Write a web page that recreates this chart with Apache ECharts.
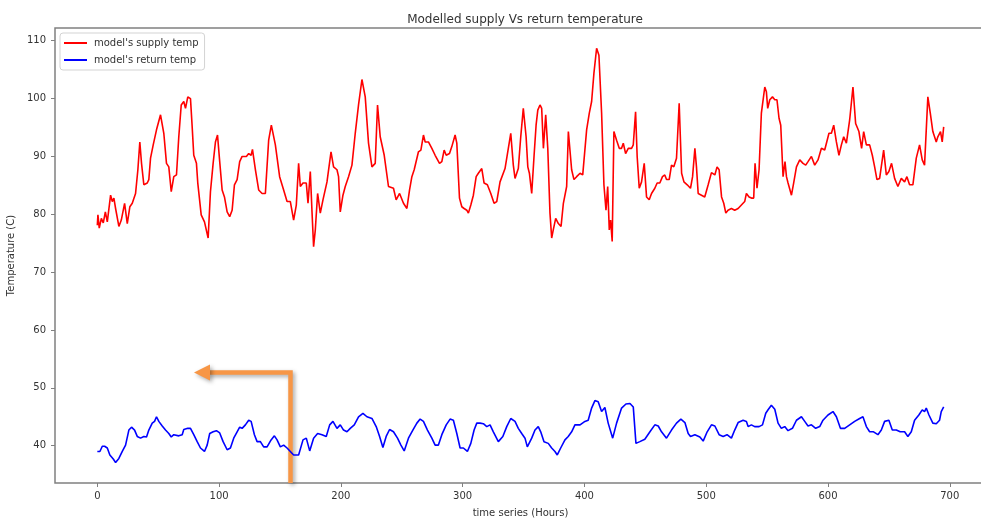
<!DOCTYPE html>
<html>
<head>
<meta charset="utf-8">
<script src="https://cdn.jsdelivr.net/npm/echarts@6/dist/echarts.min.js"></script>
<style>
html,body{margin:0;padding:0;background:#fff;}
#chart{width:981px;height:520px;}
</style>
</head>
<body>
<div id="chart"></div>
<script>
const titleText = "Modelled supply Vs return temperature";
const seriesNames = ["model's supply temp", "model's return temp"];
const xTicks = [0, 100, 200, 300, 400, 500, 600, 700];
const yTicks = [40, 50, 60, 70, 80, 90, 100, 110];

const supplyHours = [0,0.5,1.6,3.3,4.9,6.6,8.2,10.9,12.3,13.6,15.0,17.7,19.7,22.4,24.6,26.7,28.7,31.4,33.3,34.9,36.3,38.2,41.0,42.3,43.7,45.9,48.6,51.9,54.6,56.8,58.7,60.7,62.8,65.0,66.9,68.9,71.0,72.4,74.3,76.5,77.9,79.2,81.4,82.5,85.3,88.0,89.6,91.0,92.9,95.1,97.0,98.7,100.5,102.5,104.4,106.6,108.7,110.7,112.6,114.8,116.9,118.9,122.4,124.3,126.3,127.4,129.8,132.5,135.3,138.0,140.7,142.9,146.2,149.7,153.0,155.8,158.5,161.2,163.4,165.3,166.7,168.9,171.6,173.0,174.9,176.3,177.6,179.0,180.9,183.1,185.3,188.6,191.9,194.0,196.8,198.1,199.5,201.7,203.6,206.3,209.1,211.8,214.5,217.3,220.0,222.7,225.5,228.2,230.1,232.3,235.6,239.1,243.2,245.4,248.2,251.4,254.2,256.4,258.3,260.2,263.7,265.7,267.8,269.2,271.9,274.7,277.4,281.0,282.9,284.8,286.5,289.2,291.1,293.8,295.2,297.4,299.3,301.2,303.4,304.7,306.7,308.8,311.1,312.9,315.7,317.6,320.3,323.1,325.8,328.0,330.7,332.1,334.8,337.5,339.5,341.6,343.0,345.7,347.7,349.8,352.1,353.5,354.8,356.7,358.6,360.3,361.7,363.5,364.9,366.3,368.2,369.9,371.7,373.1,374.4,376.4,378.6,380.8,382.7,385.4,386.8,389.5,391.4,393.6,396.4,398.6,399.6,401.8,404.0,405.9,407.8,410.0,411.9,414.1,416.0,417.7,419.1,420.4,421.5,422.8,424.2,426.4,428.6,430.5,431.9,433.8,436.0,438.7,440.1,442.0,443.3,445.0,446.9,449.1,451.0,453.2,455.1,457.8,459.7,461.9,464.1,466.0,467.4,469.6,471.5,473.4,475.6,477.8,479.8,481.7,484.4,487.1,488.8,490.7,492.0,493.4,496.1,498.8,501.6,504.3,507.1,508.9,510.6,512.6,514.4,516.1,517.9,520.7,523.4,526.2,528.9,531.6,533.0,535.2,537.1,539.0,540.1,541.7,543.4,545.3,546.7,548.1,549.4,550.5,552.2,554.4,556.3,558.1,559.8,561.2,563.1,564.7,565.9,567.2,570.0,571.8,574.1,576.8,579.5,581.7,583.6,586.4,589.1,591.8,594.6,597.3,600.8,602.8,604.7,606.9,609.0,611.0,612.9,615.1,617.8,620.5,622.7,625.4,627.6,629.3,631.5,634.2,636.4,638.3,640.2,642.4,645.7,647.9,650.0,652.2,654.7,657.4,660.2,662.9,664.8,667.0,669.7,672.5,675.2,677.4,679.3,682.0,684.0,686.1,688.9,690.2,692.4,693.8,695.0];
const supplyTemps = [78.1,79.9,77.6,79.3,78.5,80.4,78.7,83.3,82.2,82.8,81.0,77.9,79.0,81.9,78.4,81.3,81.9,83.6,87.7,92.5,88.8,85.1,85.4,86.0,89.7,92.0,94.6,97.2,94.0,88.8,88.2,83.9,86.5,86.8,93.4,98.9,99.5,98.3,100.3,100.0,95.1,90.2,88.8,85.4,79.9,78.7,79.0,75.9,83.9,88.8,92.5,93.7,89.1,84.2,83.0,80.4,79.6,80.7,85.1,86.0,89.1,90.0,90.0,90.5,90.2,91.2,87.7,84.2,83.6,83.6,92.8,95.4,92.0,86.5,84.2,82.2,82.2,79.0,81.6,88.8,84.8,85.4,85.4,81.9,87.4,80.4,74.4,77.3,83.6,80.2,82.5,85.6,90.8,88.2,87.7,86.5,80.4,83.3,84.8,86.5,88.5,94.0,98.9,103.3,100.3,92.3,88.2,88.8,98.9,93.4,90.2,84.8,84.5,82.5,83.6,81.9,81.0,84.2,86.5,87.7,90.8,91.1,93.7,92.5,92.5,91.4,90.2,88.8,89.1,91.1,90.2,90.5,91.7,93.7,92.3,82.8,81.3,81.0,80.7,80.2,81.6,83.3,86.5,87.1,87.9,85.4,85.1,83.6,81.9,82.2,85.6,85.4,87.9,91.4,94.0,88.5,86.2,87.9,93.4,98.3,93.4,88.2,87.1,83.6,90.0,95.4,98.0,98.9,98.3,91.4,97.2,91.4,80.2,75.9,77.3,79.3,78.4,77.9,81.9,84.8,94.3,87.7,86.0,86.5,87.1,86.8,87.1,94.6,97.5,99.5,104.4,108.7,107.5,97.5,85.1,80.7,84.8,77.3,79.0,75.3,94.3,92.8,91.4,91.4,92.3,90.5,91.4,91.4,92.0,97.7,90.0,84.5,85.6,88.8,83.0,82.5,83.6,84.5,85.4,85.4,86.5,86.8,86.0,86.0,88.5,88.2,89.7,99.2,87.1,85.6,85.1,84.5,86.5,91.4,88.2,83.6,83.3,83.0,85.1,87.2,86.8,88.2,87.7,83.0,81.9,80.2,80.7,81.0,80.7,81.0,81.6,82.2,83.6,83.0,82.8,82.8,88.8,84.5,87.7,97.5,97.7,102.0,101.2,98.3,99.8,100.3,99.8,99.8,96.6,95.4,86.5,89.1,86.5,85.4,83.3,85.4,88.2,89.4,88.8,88.5,89.1,90.0,88.5,89.4,91.4,91.1,94.0,94.0,95.4,92.5,90.2,92.0,93.4,92.3,96.3,102.0,95.7,94.3,91.4,94.3,92.0,92.0,90.2,88.2,86.0,86.2,91.1,86.8,87.4,88.8,86.2,84.8,86.2,85.6,86.5,85.1,85.1,89.7,92.0,89.4,88.5,100.3,97.5,94.3,92.5,93.4,94.3,92.5,95.1];

const returnHours = [0,2.1,4.1,6.0,8.2,10.3,13.1,15.0,17.7,20.5,23.2,25.9,28.1,30.6,32.8,35.5,38.2,40.4,42.3,45.1,47.0,48.6,50.5,53.3,56.0,58.7,60.7,62.8,66.9,69.7,71.0,74.3,76.5,79.2,82.0,84.7,88.0,90.2,92.3,95.1,97.8,100.5,103.3,106.6,109.3,112.0,114.8,116.9,118.9,121.6,124.3,126.3,129.0,131.2,133.9,136.6,139.4,142.7,145.4,147.6,150.3,153.0,155.8,161.2,165.3,168.9,171.6,174.4,177.6,180.9,184.5,188.0,190.8,193.5,196.8,199.5,202.2,205.0,207.7,211.0,214.5,218.1,221.4,225.5,229.0,231.8,234.5,237.2,240.0,243.2,246.5,249.3,252.0,255.5,259.1,262.4,265.1,267.8,271.1,274.7,277.4,280.1,282.9,286.5,289.7,292.4,295.2,297.9,300.6,303.9,306.7,309.4,311.6,314.3,317.0,319.8,322.5,325.2,329.3,333.0,336.2,339.5,343.0,345.7,348.5,351.2,353.1,356.7,359.4,362.1,364.1,366.8,370.3,373.1,375.8,377.7,380.5,384.0,386.7,389.5,392.2,396.4,400.4,403.1,405.9,408.6,411.3,414.1,416.8,419.5,423.2,426.4,430.5,434.1,437.4,440.1,442.3,445.5,449.6,453.8,457.8,460.6,463.3,467.4,471.5,475.6,479.2,482.5,485.2,487.1,490.7,494.8,497.5,500.8,504.3,507.1,510.6,513.9,517.1,520.7,523.4,526.2,530.3,533.0,534.4,537.1,539.8,543.4,546.2,548.9,550.8,553.5,556.3,559.0,561.7,564.5,567.2,570.8,574.1,578.2,580.9,583.6,586.4,589.9,593.2,595.9,600.0,604.1,606.9,610.2,613.7,617.8,621.9,626.0,628.7,631.5,634.2,637.4,641.0,643.8,646.5,650.0,652.8,656.1,659.3,662.9,665.6,668.4,671.1,674.6,677.4,679.3,680.7,682.9,686.1,688.9,691.6,693.0,695.0];
const returnTemps = [39.0,39.0,39.9,39.9,39.6,38.4,37.7,37.1,37.8,39.0,40.1,42.7,43.2,42.7,41.6,41.3,41.6,41.5,42.7,43.9,44.2,45.0,44.2,43.4,42.7,42.1,41.5,41.9,41.7,41.9,42.8,43.0,43.0,41.9,40.7,39.6,39.0,40.1,42.1,42.4,42.6,42.2,40.7,39.3,39.6,41.3,42.4,43.2,43.0,43.6,44.4,44.2,41.9,40.7,40.7,39.8,39.8,41.0,41.7,41.0,39.8,40.1,39.6,38.4,38.4,41.0,41.3,39.1,41.3,42.1,41.9,41.6,43.6,44.2,43.0,43.6,42.7,42.4,43.0,43.6,45.0,45.6,45.0,44.7,43.3,41.6,39.7,41.6,42.8,42.4,41.3,40.1,39.1,41.3,42.7,43.9,44.6,44.2,42.7,41.3,40.1,40.1,41.9,43.6,44.6,44.4,42.1,39.6,39.6,39.0,40.4,42.7,43.9,43.9,43.8,43.3,43.6,42.4,40.7,41.6,43.3,44.7,44.2,43.0,42.1,41.3,39.8,41.3,42.7,43.3,42.4,40.7,40.4,39.6,39.0,38.4,39.6,41.0,41.6,42.4,43.6,43.6,44.2,44.4,46.5,47.8,47.6,45.9,46.6,43.9,41.3,43.9,46.5,47.2,47.3,46.7,40.4,40.7,41.1,42.4,43.6,43.4,42.4,41.3,42.7,43.9,44.6,44.0,42.1,41.6,41.9,41.5,40.8,42.4,43.6,43.4,41.9,41.6,41.9,41.3,42.7,44.0,44.4,44.2,43.3,43.6,43.3,43.3,43.6,45.6,46.2,47.0,46.3,43.9,43.0,43.3,42.6,43.0,44.4,45.0,44.2,43.4,43.6,43.0,43.3,44.4,45.3,45.9,45.0,43.0,43.0,43.6,44.2,44.7,45.0,43.3,42.4,42.4,41.9,42.7,44.2,44.4,42.7,42.7,42.4,42.4,41.6,42.4,44.4,45.3,46.2,45.9,46.5,45.3,43.9,43.8,44.4,45.9,46.7];

const supplyData = supplyHours.map((h, i) => [h, supplyTemps[i]]);
const returnData = returnHours.map((h, i) => [h, returnTemps[i]]);

const chart = echarts.init(document.getElementById('chart'), null, {renderer: 'canvas'});
const FONT = 'DejaVu Sans';
const TXT = '#333333';
const AX = '#808080';

const option = {
  backgroundColor: '#ffffff',
  animation: false,
  title: {
    text: titleText,
    left: 520, top: 9, textAlign: 'center',
    textStyle: {fontFamily: FONT, fontSize: 12, fontWeight: 'normal', color: TXT}
  },
  legend: {
    orient: 'vertical',
    left: 60, top: 33,
    padding: [4, 6, 4, 4],
    itemGap: 5,
    itemWidth: 23, itemHeight: 2,
    icon: 'rect',
    backgroundColor: '#ffffff',
    borderColor: '#d3d3d3', borderWidth: 1, borderRadius: 3,
    textStyle: {fontFamily: FONT, fontSize: 10, color: TXT, lineHeight: 12, padding: [0, 0, 0, 2]},
    data: seriesNames
  },
  grid: {
    left: 55, top: 28, width: 931, height: 455,
    outerBoundsMode: 'none', containLabel: false,
    show: true, borderColor: AX, borderWidth: 1.5, backgroundColor: 'transparent'
  },
  xAxis: {
    type: 'value',
    min: -34.75, max: 729.75,
    name: 'time series (Hours)',
    nameLocation: 'middle', nameGap: 25,
    nameTextStyle: {fontFamily: FONT, fontSize: 10, color: TXT},
    axisLine: {show: false, onZero: false},
    axisTick: {show: true, length: 4, inside: false, customValues: xTicks, lineStyle: {color: AX, width: 1}},
    axisLabel: {customValues: xTicks, fontFamily: FONT, fontSize: 10, color: TXT, margin: 8},
    splitLine: {show: false}
  },
  yAxis: {
    type: 'value',
    min: 33.55, max: 112.2,
    name: 'Temperature (C)',
    nameLocation: 'middle', nameGap: 36, nameRotate: 90,
    nameTextStyle: {fontFamily: FONT, fontSize: 10, color: TXT},
    axisLine: {show: false, onZero: false},
    axisTick: {show: true, length: 4, inside: false, customValues: yTicks, lineStyle: {color: AX, width: 1}},
    axisLabel: {customValues: yTicks, fontFamily: FONT, fontSize: 10, color: TXT, margin: 9},
    splitLine: {show: false}
  },
  series: [
    {
      name: seriesNames[0], type: 'line', data: supplyData,
      showSymbol: false, symbol: 'none',
      lineStyle: {color: '#ff0000', width: 1.6}, itemStyle: {color: '#ff0000'},
      z: 3
    },
    {
      name: seriesNames[1], type: 'line', data: returnData,
      showSymbol: false, symbol: 'none',
      lineStyle: {color: '#0000ff', width: 1.6}, itemStyle: {color: '#0000ff'},
      z: 3
    }
  ],
  graphic: [
    {
      type: 'group', z: 100,
      children: [
        {
          type: 'polyline',
          shape: {points: [[290.5, 483], [290.5, 372.5], [208, 372.5]]},
          style: {stroke: '#f79646', lineWidth: 4.5, fill: null, lineJoin: 'miter',
                  shadowColor: 'rgba(0,0,0,0.35)', shadowBlur: 4, shadowOffsetX: 2, shadowOffsetY: 2}
        },
        {
          type: 'polygon',
          shape: {points: [[194, 372.5], [210, 364.5], [210, 380.5]]},
          style: {fill: '#f79646',
                  shadowColor: 'rgba(0,0,0,0.35)', shadowBlur: 4, shadowOffsetX: 2, shadowOffsetY: 2}
        }
      ]
    }
  ]
};
chart.setOption(option);
</script>
</body>
</html>
